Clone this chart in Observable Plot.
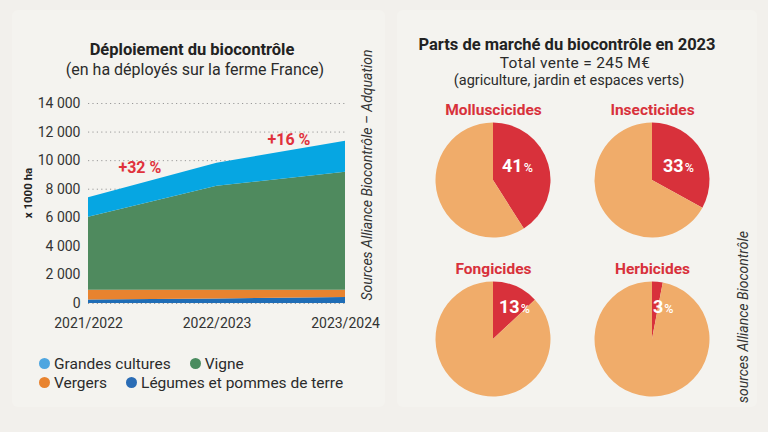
<!DOCTYPE html>
<html><head><meta charset="utf-8">
<script src="https://cdn.jsdelivr.net/npm/d3@7"></script>
<script src="https://cdn.jsdelivr.net/npm/@observablehq/plot@0.6"></script>
<style>
html,body{margin:0;padding:0;}
body{width:768px;height:432px;background:#f2f0ec;position:relative;overflow:hidden;font-family:Roboto,"Liberation Sans",sans-serif;color:#2b2b2b;}
.panel{position:absolute;background:#f4f3ef;border-radius:6px;}
.abs{position:absolute;white-space:nowrap;}
.center{transform:translate(-50%,-50%);}
.rot{transform:translate(-50%,-50%) rotate(-90deg);}
.title{font-weight:700;font-size:16.5px;color:#222;}
.sub{font-size:16px;color:#2b2b2b;}
.legend{position:absolute;left:39px;font-size:15.5px;color:#2b2b2b;}
.legend .row{display:flex;align-items:center;height:19px;}
.legend .item{display:flex;align-items:center;margin-right:19px;}
.legend .dot{width:11px;height:11px;border-radius:50%;margin-right:4px;}
#left,#right{position:absolute;}
</style></head>
<body>
<div class="panel" style="left:12px;top:10px;width:373px;height:397px;"></div>
<div class="panel" style="left:397px;top:10px;width:360px;height:397px;"></div>

<div class="abs center title" style="left:192px;top:49px;">Déploiement du biocontrôle</div>
<div class="abs center sub" style="left:195px;top:69px;">(en ha déployés sur la ferme France)</div>
<div class="abs rot" style="left:28px;top:193px;font-size:11.5px;font-weight:700;color:#222;">x 1000 ha</div>
<div class="abs rot" style="left:367px;top:175px;font-size:14px;font-style:italic;color:#333;">Sources Alliance Biocontrôle – Adquation</div>
<div id="left" style="left:0;top:95px;"></div>
<div class="legend" id="legend" style="top:354px;"></div>

<div id="right" style="left:390px;top:0;"></div>
<div class="abs center title" style="left:567px;top:44px;">Parts de marché du biocontrôle en 2023</div>
<div class="abs center sub" style="left:575px;top:63px;font-size:15.5px;letter-spacing:0.3px;">Total vente = 245 M€</div>
<div class="abs center sub" style="left:569px;top:80px;font-size:14.5px;">(agriculture, jardin et espaces verts)</div>
<div class="abs rot" style="left:743px;top:317px;font-size:14px;font-style:italic;color:#333;">sources Alliance Biocontrôle</div>

<script>
// ---- Data: area chart (x 1000 ha) ----
const years = ["2021/2022", "2022/2023", "2023/2024"];
const crops = ["Légumes et pommes de terre", "Vergers", "Vigne", "Grandes cultures"]; // bottom to top
const legumes = [250, 320, 420];
const vergers = [680, 610, 510];
const vigne = [5110, 7280, 8260];
const grandesCultures = [1360, 1610, 2160];
const yTicks = [0, 2000, 4000, 6000, 8000, 10000, 12000, 14000];
const growthLabels = ["+32 %", "+16 %"];
const growthAt = [[0.4, 9520], [1.56, 11480]];

const areaColors = ["#1f6db6", "#e8832f", "#4f8a5e", "#06a6e2"];
const legendColors = {"Grandes cultures": "#4ea6e0", "Vigne": "#4a8c5f", "Vergers": "#e8832f", "Légumes et pommes de terre": "#2a6cb5"};
const legendRows = [["Grandes cultures", "Vigne"], ["Vergers", "Légumes et pommes de terre"]];

// ---- Data: pies (share %) ----
const pieNames = ["Molluscicides", "Insecticides", "Fongicides", "Herbicides"];
const pieShares = [41, 33, 13, 3];

const series = [legumes, vergers, vigne, grandesCultures];
const long = [];
years.forEach((y, i) => crops.forEach((c, k) => long.push({x: i, crop: c, value: series[k][i]})));

const fmt = d3.formatLocale({thousands: " ", grouping: [3], decimal: ","}).format(",");

const left = Plot.plot({
  width: 385, height: 240,
  marginLeft: 88, marginRight: 40, marginTop: 8, marginBottom: 32,
  style: {background: "transparent", fontFamily: "Roboto, sans-serif", fontSize: "14px", color: "#333", overflow: "visible"},
  x: {type: "linear", domain: [0, 2], ticks: [0, 1, 2], tickFormat: i => years[i], tickSize: 0, tickPadding: 15, label: null},
  y: {domain: [0, 14000], ticks: yTicks, tickFormat: fmt, tickSize: 0, tickPadding: 8, label: null},
  color: {domain: crops, range: areaColors},
  marks: [
    Plot.ruleY(yTicks, {stroke: "#9a9a9a", strokeDasharray: "1.2,3.2", strokeWidth: 1}),
    Plot.areaY(long, {x: "x", y: "value", fill: "crop", order: crops}),
    Plot.text(growthLabels, {x: (d, i) => growthAt[i][0], y: (d, i) => growthAt[i][1], text: d => d,
      fill: "#e0313c", fontWeight: 700, fontSize: 16})
  ]
});
document.getElementById("left").appendChild(left);

// legend
const leg = document.getElementById("legend");
legendRows.forEach(row => {
  const r = document.createElement("div"); r.className = "row";
  row.forEach(name => {
    const it = document.createElement("div"); it.className = "item";
    const dot = document.createElement("div"); dot.className = "dot"; dot.style.background = legendColors[name];
    const t = document.createElement("span"); t.textContent = name;
    it.appendChild(dot); it.appendChild(t); r.appendChild(it);
  });
  leg.appendChild(r);
});

// pies
const pies = pieNames.map((name, i) => ({name, share: pieShares[i], col: i % 2, row: Math.floor(i / 2)}));
const R = 57.5;
const red = "#d8313b", orange = "#f0ac6a";
const pieMark = (index, scales) => {
  const sx = scales.x, sy = scales.y;
  const g = d3.create("svg:g");
  const arc = d3.arc().innerRadius(0).outerRadius(R);
  pies.forEach(p => {
    const cx = sx(p.col), cy = sy(p.row);
    const arcs = d3.pie().sort(null)([p.share, 100 - p.share]);
    const gg = g.append("g").attr("transform", `translate(${cx},${cy})`);
    gg.selectAll("path").data(arcs).join("path").attr("d", arc).attr("fill", (d, j) => j === 0 ? red : orange);
    const dx = p.share > 30 ? 9 + (p.share < 40 ? 2 : 0) : (p.share > 10 ? 6 : 1);
    const dy = p.share > 20 ? -8 : -26;
    const t = gg.append("text").attr("x", dx).attr("y", dy).attr("fill", "#fff")
      .attr("text-anchor", "start").attr("font-family", "Roboto, sans-serif");
    t.append("tspan").attr("font-size", 18).attr("font-weight", 700).text(p.share);
    t.append("tspan").attr("font-size", 12.5).attr("font-weight", 500).attr("dx", 1).text("%");
  });
  return g.node();
};

const right = Plot.plot({
  width: 378, height: 432,
  marginLeft: 103, marginRight: 116, marginTop: 180, marginBottom: 93,
  style: {background: "transparent", fontFamily: "Roboto, sans-serif", overflow: "visible"},
  x: {domain: [0, 1], axis: null},
  y: {domain: [0, 1], reverse: true, axis: null},
  marks: [
    pieMark,
    Plot.text(pies, {x: "col", y: "row", text: "name", dy: -70, fill: "#d8313b", fontWeight: 700, fontSize: 15.5})
  ]
});
document.getElementById("right").appendChild(right);
</script>
</body></html>
